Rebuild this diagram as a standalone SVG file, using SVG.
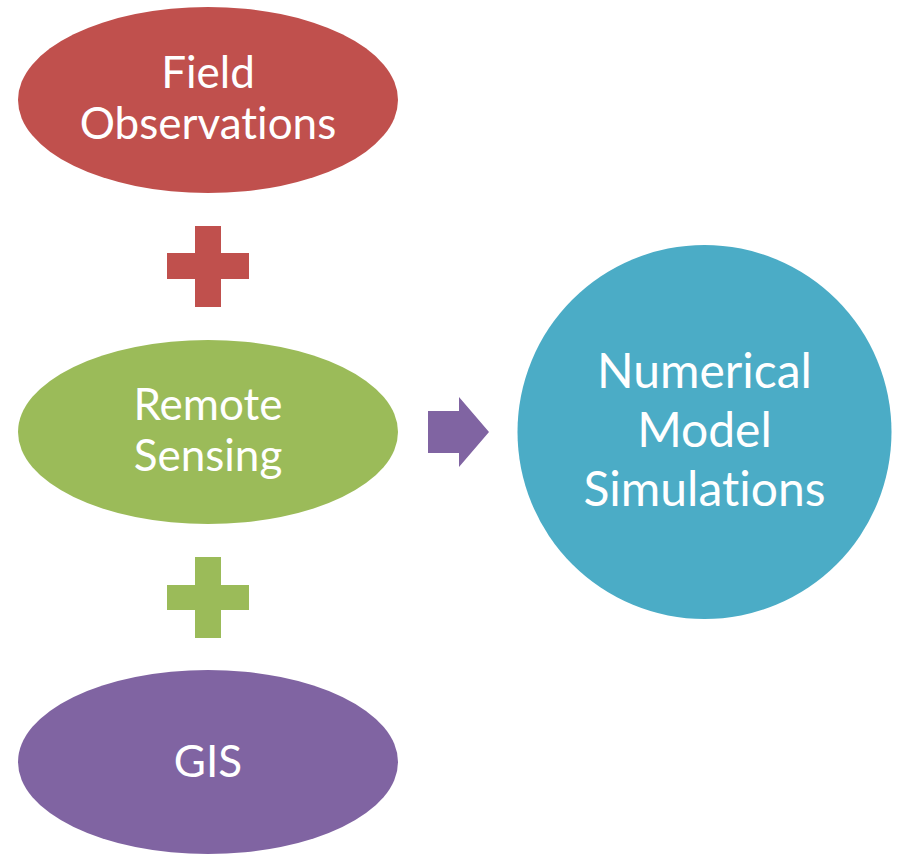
<svg xmlns="http://www.w3.org/2000/svg" width="897" height="855" viewBox="0 0 897 855">
  <style>
    .label { font-family: Lato, "Open Sans", "Liberation Sans", sans-serif; fill: #ffffff; text-anchor: middle; font-variant-ligatures: none; font-feature-settings: "liga" 0; }
    .small { font-size: 44px; }
    .big { font-size: 48px; }
  </style>
  <rect width="897" height="855" fill="#ffffff"/>

  <g id="field-observations">
    <ellipse cx="208" cy="100" rx="190" ry="93" fill="#C0504D"/>
    <text class="label small" x="208" y="88">Field</text>
    <text class="label small" x="208" y="139">Observations</text>
  </g>

  <g id="remote-sensing">
    <ellipse cx="208" cy="432" rx="190" ry="92" fill="#9BBB59"/>
    <text class="label small" x="208" y="420">Remote</text>
    <text class="label small" x="208" y="471">Sensing</text>
  </g>

  <g id="gis">
    <ellipse cx="208" cy="762" rx="190" ry="92" fill="#8064A2"/>
    <text class="label small" x="208" y="777">GIS</text>
  </g>

  <g id="numerical-model-simulations">
    <circle cx="704.5" cy="432" r="187" fill="#4BACC6"/>
    <text class="label big" x="704.5" y="388">Numerical</text>
    <text class="label big" x="704.5" y="447">Model</text>
    <text class="label big" x="704.5" y="506">Simulations</text>
  </g>

  <g id="connectors">
    <!-- plus between field observations and remote sensing -->
    <path d="M195 226 H221 V253 H249 V279 H221 V307 H195 V279 H167 V253 H195 Z" fill="#C0504D"/>
    <!-- plus between remote sensing and GIS -->
    <path d="M195 557 H221 V585 H249 V610 H221 V638 H195 V610 H167 V585 H195 Z" fill="#9BBB59"/>
    <!-- arrow into the simulations -->
    <path d="M428 411 H459 V397 L489 432 L459 467 V453 H428 Z" fill="#8064A2"/>
  </g>
</svg>
